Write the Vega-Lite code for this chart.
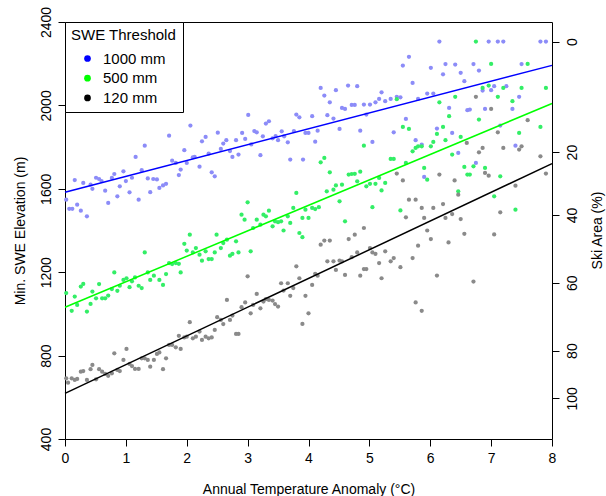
{
"$schema": "https://vega.github.io/schema/vega-lite/v6.json",
"width": 487, "height": 417,
"autosize": {"type": "none"},
"padding": {"left": 65, "top": 22, "right": 54, "bottom": 57},
"background": "white",
"config": {
  "font": "Liberation Sans",
  "view": {"stroke": "black", "strokeWidth": 1},
  "axis": {"grid": false, "domain": false, "tickColor": "black", "tickSize": 7, "labelColor": "black", "titleColor": "black", "labelFontSize": 14, "titleFontSize": 14, "titleFontWeight": "normal", "labelFont": "Liberation Sans", "titleFont": "Liberation Sans", "labelFlush": false, "labelOverlap": false}
},
"datasets": {
"fit": [
{"t":0,"elev":1583,"series":"1000 mm"},{"t":8,"elev":2192,"series":"1000 mm"},
{"t":0,"elev":1032,"series":"500 mm"},{"t":8,"elev":2009,"series":"500 mm"},
{"t":0,"elev":619,"series":"120 mm"},{"t":8,"elev":1721,"series":"120 mm"}
],
"pts": [
{"t":0.02,"elev":1548,"swe":"1000 mm"},{"t":0.07,"elev":1504,"swe":"1000 mm"},{"t":0.12,"elev":1504,"swe":"1000 mm"},{"t":0.20,"elev":1524,"swe":"1000 mm"},{"t":0.26,"elev":1495,"swe":"1000 mm"},{"t":0.36,"elev":1468,"swe":"1000 mm"},{"t":0.16,"elev":1642,"swe":"1000 mm"},{"t":0.30,"elev":1628,"swe":"1000 mm"},{"t":0.42,"elev":1620,"swe":"1000 mm"},{"t":0.45,"elev":1600,"swe":"1000 mm"},{"t":0.51,"elev":1653,"swe":"1000 mm"},{"t":0.56,"elev":1647,"swe":"1000 mm"},{"t":0.60,"elev":1637,"swe":"1000 mm"},{"t":0.66,"elev":1591,"swe":"1000 mm"},{"t":0.71,"elev":1532,"swe":"1000 mm"},{"t":0.77,"elev":1652,"swe":"1000 mm"},{"t":0.81,"elev":1671,"swe":"1000 mm"},{"t":0.86,"elev":1564,"swe":"1000 mm"},{"t":0.90,"elev":1612,"swe":"1000 mm"},{"t":0.96,"elev":1684,"swe":"1000 mm"},{"t":1.00,"elev":1637,"swe":"1000 mm"},{"t":1.06,"elev":1583,"swe":"1000 mm"},{"t":1.10,"elev":1653,"swe":"1000 mm"},{"t":1.16,"elev":1753,"swe":"1000 mm"},{"t":1.21,"elev":1548,"swe":"1000 mm"},{"t":1.26,"elev":1689,"swe":"1000 mm"},{"t":1.31,"elev":1807,"swe":"1000 mm"},{"t":1.36,"elev":1650,"swe":"1000 mm"},{"t":1.40,"elev":1584,"swe":"1000 mm"},{"t":1.45,"elev":1647,"swe":"1000 mm"},{"t":1.51,"elev":1645,"swe":"1000 mm"},{"t":1.55,"elev":1604,"swe":"1000 mm"},{"t":1.61,"elev":1616,"swe":"1000 mm"},{"t":1.66,"elev":1624,"swe":"1000 mm"},{"t":1.71,"elev":1855,"swe":"1000 mm"},{"t":1.76,"elev":1735,"swe":"1000 mm"},{"t":1.82,"elev":1724,"swe":"1000 mm"},{"t":1.87,"elev":1666,"swe":"1000 mm"},{"t":1.90,"elev":1692,"swe":"1000 mm"},{"t":1.96,"elev":1785,"swe":"1000 mm"},{"t":2.00,"elev":1724,"swe":"1000 mm"},{"t":2.06,"elev":1903,"swe":"1000 mm"},{"t":2.10,"elev":1751,"swe":"1000 mm"},{"t":2.13,"elev":1753,"swe":"1000 mm"},{"t":2.21,"elev":1706,"swe":"1000 mm"},{"t":2.25,"elev":1828,"swe":"1000 mm"},{"t":2.31,"elev":1849,"swe":"1000 mm"},{"t":2.36,"elev":1769,"swe":"1000 mm"},{"t":2.41,"elev":1679,"swe":"1000 mm"},{"t":2.46,"elev":1660,"swe":"1000 mm"},{"t":2.51,"elev":1869,"swe":"1000 mm"},{"t":2.56,"elev":1791,"swe":"1000 mm"},{"t":2.60,"elev":1817,"swe":"1000 mm"},{"t":2.65,"elev":1833,"swe":"1000 mm"},{"t":2.71,"elev":1781,"swe":"1000 mm"},{"t":2.75,"elev":1753,"swe":"1000 mm"},{"t":2.81,"elev":1833,"swe":"1000 mm"},{"t":2.85,"elev":1764,"swe":"1000 mm"},{"t":2.91,"elev":1868,"swe":"1000 mm"},{"t":2.96,"elev":1839,"swe":"1000 mm"},{"t":3.01,"elev":1954,"swe":"1000 mm"},{"t":3.06,"elev":1813,"swe":"1000 mm"},{"t":3.11,"elev":1877,"swe":"1000 mm"},{"t":3.15,"elev":1871,"swe":"1000 mm"},{"t":3.21,"elev":1761,"swe":"1000 mm"},{"t":3.25,"elev":1852,"swe":"1000 mm"},{"t":3.30,"elev":1913,"swe":"1000 mm"},{"t":3.35,"elev":1924,"swe":"1000 mm"},{"t":3.41,"elev":1842,"swe":"1000 mm"},{"t":3.46,"elev":1853,"swe":"1000 mm"},{"t":3.50,"elev":1833,"swe":"1000 mm"},{"t":3.56,"elev":1876,"swe":"1000 mm"},{"t":3.60,"elev":1852,"swe":"1000 mm"},{"t":3.66,"elev":1823,"swe":"1000 mm"},{"t":3.70,"elev":1740,"swe":"1000 mm"},{"t":3.76,"elev":1877,"swe":"1000 mm"},{"t":3.80,"elev":1956,"swe":"1000 mm"},{"t":3.85,"elev":1943,"swe":"1000 mm"},{"t":3.91,"elev":1740,"swe":"1000 mm"},{"t":3.95,"elev":1868,"swe":"1000 mm"},{"t":4.00,"elev":1868,"swe":"1000 mm"},
{"t":4.06,"elev":1948,"swe":"1000 mm"},{"t":4.11,"elev":1826,"swe":"1000 mm"},{"t":4.15,"elev":1879,"swe":"1000 mm"},{"t":4.20,"elev":2084,"swe":"1000 mm"},{"t":4.26,"elev":2047,"swe":"1000 mm"},{"t":4.31,"elev":1953,"swe":"1000 mm"},{"t":4.35,"elev":2015,"swe":"1000 mm"},{"t":4.41,"elev":1937,"swe":"1000 mm"},{"t":4.45,"elev":2073,"swe":"1000 mm"},{"t":4.51,"elev":1887,"swe":"1000 mm"},{"t":4.55,"elev":1988,"swe":"1000 mm"},{"t":4.60,"elev":1983,"swe":"1000 mm"},{"t":4.65,"elev":2095,"swe":"1000 mm"},{"t":4.71,"elev":2002,"swe":"1000 mm"},{"t":4.76,"elev":2002,"swe":"1000 mm"},{"t":4.80,"elev":2092,"swe":"1000 mm"},{"t":4.85,"elev":1879,"swe":"1000 mm"},{"t":4.91,"elev":2004,"swe":"1000 mm"},{"t":4.95,"elev":1956,"swe":"1000 mm"},{"t":5.01,"elev":2004,"swe":"1000 mm"},{"t":5.05,"elev":1825,"swe":"1000 mm"},{"t":5.10,"elev":2015,"swe":"1000 mm"},{"t":5.16,"elev":2031,"swe":"1000 mm"},{"t":5.20,"elev":2063,"swe":"1000 mm"},{"t":5.26,"elev":2020,"swe":"1000 mm"},{"t":5.35,"elev":2031,"swe":"1000 mm"},{"t":5.40,"elev":1871,"swe":"1000 mm"},{"t":5.45,"elev":2041,"swe":"1000 mm"},{"t":5.51,"elev":2039,"swe":"1000 mm"},{"t":5.55,"elev":2191,"swe":"1000 mm"},{"t":5.60,"elev":1935,"swe":"1000 mm"},{"t":5.65,"elev":2233,"swe":"1000 mm"},{"t":5.71,"elev":2108,"swe":"1000 mm"},{"t":5.76,"elev":1833,"swe":"1000 mm"},{"t":5.80,"elev":2031,"swe":"1000 mm"},{"t":5.86,"elev":1812,"swe":"1000 mm"},{"t":5.90,"elev":1657,"swe":"1000 mm"},{"t":5.95,"elev":2057,"swe":"1000 mm"},{"t":6.01,"elev":2180,"swe":"1000 mm"},{"t":6.05,"elev":2057,"swe":"1000 mm"},{"t":6.11,"elev":1889,"swe":"1000 mm"},{"t":6.15,"elev":2306,"swe":"1000 mm"},{"t":6.21,"elev":2149,"swe":"1000 mm"},{"t":6.25,"elev":2198,"swe":"1000 mm"},{"t":6.31,"elev":1988,"swe":"1000 mm"},{"t":6.36,"elev":1868,"swe":"1000 mm"},{"t":6.41,"elev":2196,"swe":"1000 mm"},{"t":6.46,"elev":1772,"swe":"1000 mm"},{"t":6.50,"elev":2156,"swe":"1000 mm"},{"t":6.56,"elev":2116,"swe":"1000 mm"},{"t":6.61,"elev":1977,"swe":"1000 mm"},{"t":6.65,"elev":1980,"swe":"1000 mm"},{"t":6.71,"elev":2198,"swe":"1000 mm"},{"t":6.75,"elev":1724,"swe":"1000 mm"},{"t":6.80,"elev":2167,"swe":"1000 mm"},{"t":6.86,"elev":2071,"swe":"1000 mm"},{"t":6.90,"elev":1983,"swe":"1000 mm"},{"t":6.96,"elev":2306,"swe":"1000 mm"},{"t":7.00,"elev":2073,"swe":"1000 mm"},{"t":7.05,"elev":2092,"swe":"1000 mm"},{"t":7.11,"elev":2306,"swe":"1000 mm"},{"t":7.15,"elev":1903,"swe":"1000 mm"},{"t":7.20,"elev":2306,"swe":"1000 mm"},{"t":7.25,"elev":2092,"swe":"1000 mm"},{"t":7.35,"elev":1983,"swe":"1000 mm"},{"t":7.40,"elev":1807,"swe":"1000 mm"},{"t":7.46,"elev":2041,"swe":"1000 mm"},{"t":7.50,"elev":2198,"swe":"1000 mm"},{"t":7.81,"elev":2306,"swe":"1000 mm"},{"t":7.90,"elev":2306,"swe":"1000 mm"},
{"t":0.02,"elev":1100,"swe":"500 mm"},{"t":0.11,"elev":1015,"swe":"500 mm"},{"t":0.16,"elev":1083,"swe":"500 mm"},{"t":0.20,"elev":1043,"swe":"500 mm"},{"t":0.26,"elev":1131,"swe":"500 mm"},{"t":0.30,"elev":1144,"swe":"500 mm"},{"t":0.36,"elev":1011,"swe":"500 mm"},{"t":0.42,"elev":1048,"swe":"500 mm"},{"t":0.45,"elev":1107,"swe":"500 mm"},{"t":0.51,"elev":1075,"swe":"500 mm"},{"t":0.56,"elev":1143,"swe":"500 mm"},{"t":0.61,"elev":1075,"swe":"500 mm"},{"t":0.66,"elev":1075,"swe":"500 mm"},{"t":0.71,"elev":1088,"swe":"500 mm"},{"t":0.77,"elev":1119,"swe":"500 mm"},{"t":0.81,"elev":1199,"swe":"500 mm"},{"t":0.86,"elev":1111,"swe":"500 mm"},{"t":0.90,"elev":1135,"swe":"500 mm"},{"t":0.96,"elev":1163,"swe":"500 mm"},{"t":1.01,"elev":1171,"swe":"500 mm"},{"t":1.06,"elev":1128,"swe":"500 mm"},{"t":1.10,"elev":1156,"swe":"500 mm"},{"t":1.15,"elev":1175,"swe":"500 mm"},{"t":1.21,"elev":1135,"swe":"500 mm"},{"t":1.26,"elev":1124,"swe":"500 mm"},{"t":1.31,"elev":1295,"swe":"500 mm"},{"t":1.36,"elev":1199,"swe":"500 mm"},{"t":1.40,"elev":1163,"swe":"500 mm"},{"t":1.46,"elev":1183,"swe":"500 mm"},{"t":1.55,"elev":1163,"swe":"500 mm"},{"t":1.61,"elev":1139,"swe":"500 mm"},{"t":1.66,"elev":1191,"swe":"500 mm"},{"t":1.71,"elev":1244,"swe":"500 mm"},{"t":1.76,"elev":1239,"swe":"500 mm"},{"t":1.82,"elev":1244,"swe":"500 mm"},{"t":1.87,"elev":1240,"swe":"500 mm"},{"t":1.90,"elev":1199,"swe":"500 mm"},{"t":1.96,"elev":1336,"swe":"500 mm"},{"t":2.00,"elev":1304,"swe":"500 mm"},{"t":2.05,"elev":1380,"swe":"500 mm"},{"t":2.10,"elev":1295,"swe":"500 mm"},{"t":2.15,"elev":1316,"swe":"500 mm"},{"t":2.21,"elev":1284,"swe":"500 mm"},{"t":2.25,"elev":1255,"swe":"500 mm"},{"t":2.31,"elev":1300,"swe":"500 mm"},{"t":2.36,"elev":1263,"swe":"500 mm"},{"t":2.41,"elev":1263,"swe":"500 mm"},{"t":2.46,"elev":1295,"swe":"500 mm"},{"t":2.49,"elev":1380,"swe":"500 mm"},{"t":2.56,"elev":1316,"swe":"500 mm"},{"t":2.60,"elev":1340,"swe":"500 mm"},{"t":2.66,"elev":1356,"swe":"500 mm"},{"t":2.71,"elev":1279,"swe":"500 mm"},{"t":2.75,"elev":1288,"swe":"500 mm"},{"t":2.81,"elev":1348,"swe":"500 mm"},{"t":2.85,"elev":1295,"swe":"500 mm"},{"t":3.05,"elev":1300,"swe":"500 mm"},
{"t":2.90,"elev":1476,"swe":"500 mm"},{"t":2.95,"elev":1452,"swe":"500 mm"},{"t":3.00,"elev":1535,"swe":"500 mm"},{"t":3.09,"elev":1412,"swe":"500 mm"},{"t":3.15,"elev":1452,"swe":"500 mm"},{"t":3.21,"elev":1428,"swe":"500 mm"},{"t":3.26,"elev":1476,"swe":"500 mm"},{"t":3.30,"elev":1468,"swe":"500 mm"},{"t":3.35,"elev":1495,"swe":"500 mm"},{"t":3.41,"elev":1420,"swe":"500 mm"},{"t":3.45,"elev":1444,"swe":"500 mm"},{"t":3.50,"elev":1440,"swe":"500 mm"},{"t":3.55,"elev":1444,"swe":"500 mm"},{"t":3.59,"elev":1400,"swe":"500 mm"},{"t":3.66,"elev":1468,"swe":"500 mm"},{"t":3.70,"elev":1436,"swe":"500 mm"},{"t":3.75,"elev":1508,"swe":"500 mm"},{"t":3.80,"elev":1580,"swe":"500 mm"},{"t":3.85,"elev":1388,"swe":"500 mm"},{"t":3.90,"elev":1460,"swe":"500 mm"},{"t":3.95,"elev":1500,"swe":"500 mm"},{"t":4.00,"elev":1460,"swe":"500 mm"},{"t":3.90,"elev":1368,"swe":"500 mm"},
{"t":4.06,"elev":1508,"swe":"500 mm"},{"t":4.11,"elev":1503,"swe":"500 mm"},{"t":4.17,"elev":1512,"swe":"500 mm"},{"t":4.20,"elev":1727,"swe":"500 mm"},{"t":4.26,"elev":1748,"swe":"500 mm"},{"t":4.30,"elev":1588,"swe":"500 mm"},{"t":4.35,"elev":1679,"swe":"500 mm"},{"t":4.41,"elev":1596,"swe":"500 mm"},{"t":4.45,"elev":1616,"swe":"500 mm"},{"t":4.51,"elev":1540,"swe":"500 mm"},{"t":4.55,"elev":1620,"swe":"500 mm"},{"t":4.60,"elev":1444,"swe":"500 mm"},{"t":4.66,"elev":1668,"swe":"500 mm"},{"t":4.71,"elev":1671,"swe":"500 mm"},{"t":4.76,"elev":1672,"swe":"500 mm"},{"t":4.80,"elev":1636,"swe":"500 mm"},{"t":4.85,"elev":1682,"swe":"500 mm"},{"t":4.91,"elev":1807,"swe":"500 mm"},{"t":4.95,"elev":1612,"swe":"500 mm"},{"t":5.01,"elev":1624,"swe":"500 mm"},{"t":5.05,"elev":1512,"swe":"500 mm"},{"t":5.10,"elev":1624,"swe":"500 mm"},{"t":5.16,"elev":1652,"swe":"500 mm"},{"t":5.20,"elev":1592,"swe":"500 mm"},{"t":5.26,"elev":1628,"swe":"500 mm"},{"t":5.35,"elev":1743,"swe":"500 mm"},{"t":5.40,"elev":1743,"swe":"500 mm"},{"t":5.45,"elev":2030,"swe":"500 mm"},{"t":5.51,"elev":1496,"swe":"500 mm"},{"t":5.55,"elev":1897,"swe":"500 mm"},{"t":5.60,"elev":1724,"swe":"500 mm"},{"t":5.65,"elev":1887,"swe":"500 mm"},{"t":5.71,"elev":1780,"swe":"500 mm"},{"t":5.76,"elev":1796,"swe":"500 mm"},{"t":5.80,"elev":1804,"swe":"500 mm"},{"t":5.86,"elev":1804,"swe":"500 mm"},{"t":5.90,"elev":1700,"swe":"500 mm"},{"t":5.95,"elev":1644,"swe":"500 mm"},{"t":6.01,"elev":1804,"swe":"500 mm"},{"t":6.05,"elev":1825,"swe":"500 mm"},{"t":6.11,"elev":1863,"swe":"500 mm"},{"t":6.15,"elev":2015,"swe":"500 mm"},{"t":6.21,"elev":1897,"swe":"500 mm"},{"t":6.25,"elev":1833,"swe":"500 mm"},{"t":6.31,"elev":1948,"swe":"500 mm"},{"t":6.36,"elev":1764,"swe":"500 mm"},{"t":6.41,"elev":2041,"swe":"500 mm"},{"t":6.46,"elev":1588,"swe":"500 mm"},{"t":6.50,"elev":1849,"swe":"500 mm"},{"t":6.56,"elev":1705,"swe":"500 mm"},{"t":6.61,"elev":1668,"swe":"500 mm"},{"t":6.65,"elev":1668,"swe":"500 mm"},{"t":6.71,"elev":1708,"swe":"500 mm"},{"t":6.75,"elev":2306,"swe":"500 mm"},{"t":6.80,"elev":1932,"swe":"500 mm"},{"t":6.86,"elev":2084,"swe":"500 mm"},{"t":6.90,"elev":1700,"swe":"500 mm"},{"t":6.96,"elev":2095,"swe":"500 mm"},{"t":7.00,"elev":2199,"swe":"500 mm"},{"t":7.05,"elev":1564,"swe":"500 mm"},{"t":7.11,"elev":2041,"swe":"500 mm"},{"t":7.15,"elev":1660,"swe":"500 mm"},{"t":7.20,"elev":2084,"swe":"500 mm"},{"t":7.35,"elev":2020,"swe":"500 mm"},{"t":7.40,"elev":1500,"swe":"500 mm"},{"t":7.46,"elev":1868,"swe":"500 mm"},{"t":7.50,"elev":2084,"swe":"500 mm"},{"t":7.60,"elev":2199,"swe":"500 mm"},{"t":7.81,"elev":1897,"swe":"500 mm"},{"t":7.90,"elev":2084,"swe":"500 mm"},
{"t":0.02,"elev":691,"swe":"120 mm"},{"t":0.05,"elev":670,"swe":"120 mm"},{"t":0.11,"elev":691,"swe":"120 mm"},{"t":0.16,"elev":683,"swe":"120 mm"},{"t":0.20,"elev":688,"swe":"120 mm"},{"t":0.26,"elev":723,"swe":"120 mm"},{"t":0.30,"elev":726,"swe":"120 mm"},{"t":0.36,"elev":683,"swe":"120 mm"},{"t":0.42,"elev":735,"swe":"120 mm"},{"t":0.45,"elev":755,"swe":"120 mm"},{"t":0.51,"elev":686,"swe":"120 mm"},{"t":0.56,"elev":735,"swe":"120 mm"},{"t":0.61,"elev":723,"swe":"120 mm"},{"t":0.66,"elev":712,"swe":"120 mm"},{"t":0.71,"elev":703,"swe":"120 mm"},{"t":0.77,"elev":715,"swe":"120 mm"},{"t":0.81,"elev":811,"swe":"120 mm"},{"t":0.86,"elev":731,"swe":"120 mm"},{"t":0.90,"elev":726,"swe":"120 mm"},{"t":0.96,"elev":779,"swe":"120 mm"},{"t":1.01,"elev":832,"swe":"120 mm"},{"t":1.06,"elev":760,"swe":"120 mm"},{"t":1.10,"elev":750,"swe":"120 mm"},{"t":1.15,"elev":736,"swe":"120 mm"},{"t":1.21,"elev":736,"swe":"120 mm"},{"t":1.26,"elev":787,"swe":"120 mm"},{"t":1.31,"elev":787,"swe":"120 mm"},{"t":1.36,"elev":779,"swe":"120 mm"},{"t":1.40,"elev":747,"swe":"120 mm"},{"t":1.46,"elev":779,"swe":"120 mm"},{"t":1.51,"elev":808,"swe":"120 mm"},{"t":1.55,"elev":815,"swe":"120 mm"},{"t":1.61,"elev":735,"swe":"120 mm"},{"t":1.66,"elev":787,"swe":"120 mm"},{"t":1.71,"elev":851,"swe":"120 mm"},{"t":1.76,"elev":851,"swe":"120 mm"},{"t":1.82,"elev":840,"swe":"120 mm"},{"t":1.87,"elev":895,"swe":"120 mm"},{"t":1.90,"elev":832,"swe":"120 mm"},{"t":1.96,"elev":887,"swe":"120 mm"},{"t":2.00,"elev":891,"swe":"120 mm"},{"t":2.05,"elev":960,"swe":"120 mm"},{"t":2.10,"elev":883,"swe":"120 mm"},{"t":2.15,"elev":891,"swe":"120 mm"},{"t":2.21,"elev":915,"swe":"120 mm"},{"t":2.25,"elev":875,"swe":"120 mm"},{"t":2.31,"elev":891,"swe":"120 mm"},{"t":2.36,"elev":883,"swe":"120 mm"},{"t":2.41,"elev":887,"swe":"120 mm"},{"t":2.46,"elev":923,"swe":"120 mm"},{"t":2.50,"elev":984,"swe":"120 mm"},{"t":2.56,"elev":971,"swe":"120 mm"},{"t":2.60,"elev":951,"swe":"120 mm"},{"t":2.66,"elev":1067,"swe":"120 mm"},{"t":2.71,"elev":971,"swe":"120 mm"},{"t":2.75,"elev":992,"swe":"120 mm"},{"t":2.81,"elev":904,"swe":"120 mm"},{"t":2.85,"elev":904,"swe":"120 mm"},{"t":2.90,"elev":1032,"swe":"120 mm"},{"t":2.96,"elev":1055,"swe":"120 mm"},{"t":3.00,"elev":1180,"swe":"120 mm"},{"t":3.05,"elev":1003,"swe":"120 mm"},{"t":3.09,"elev":1043,"swe":"120 mm"},{"t":3.15,"elev":1096,"swe":"120 mm"},{"t":3.21,"elev":1027,"swe":"120 mm"},{"t":3.26,"elev":1059,"swe":"120 mm"},{"t":3.30,"elev":1071,"swe":"120 mm"},{"t":3.35,"elev":1067,"swe":"120 mm"},{"t":3.41,"elev":1064,"swe":"120 mm"},{"t":3.45,"elev":1047,"swe":"120 mm"},{"t":3.50,"elev":1035,"swe":"120 mm"},{"t":3.55,"elev":1147,"swe":"120 mm"},{"t":3.59,"elev":1112,"swe":"120 mm"},{"t":3.66,"elev":1147,"swe":"120 mm"},{"t":3.70,"elev":1087,"swe":"120 mm"},{"t":3.75,"elev":1124,"swe":"120 mm"},{"t":3.80,"elev":1228,"swe":"120 mm"},{"t":3.85,"elev":1171,"swe":"120 mm"},{"t":3.90,"elev":952,"swe":"120 mm"},{"t":3.95,"elev":1087,"swe":"120 mm"},{"t":4.00,"elev":1003,"swe":"120 mm"},
{"t":4.06,"elev":1139,"swe":"120 mm"},{"t":4.11,"elev":1192,"swe":"120 mm"},{"t":4.15,"elev":1183,"swe":"120 mm"},{"t":4.20,"elev":1332,"swe":"120 mm"},{"t":4.26,"elev":1352,"swe":"120 mm"},{"t":4.31,"elev":1252,"swe":"120 mm"},{"t":4.35,"elev":1352,"swe":"120 mm"},{"t":4.41,"elev":1252,"swe":"120 mm"},{"t":4.45,"elev":1211,"swe":"120 mm"},{"t":4.51,"elev":1256,"swe":"120 mm"},{"t":4.55,"elev":1252,"swe":"120 mm"},{"t":4.60,"elev":1187,"swe":"120 mm"},{"t":4.66,"elev":1359,"swe":"120 mm"},{"t":4.71,"elev":1272,"swe":"120 mm"},{"t":4.76,"elev":1380,"swe":"120 mm"},{"t":4.80,"elev":1295,"swe":"120 mm"},{"t":4.85,"elev":1183,"swe":"120 mm"},{"t":4.91,"elev":1215,"swe":"120 mm"},{"t":4.95,"elev":1215,"swe":"120 mm"},{"t":5.01,"elev":1316,"swe":"120 mm"},{"t":5.05,"elev":1295,"swe":"120 mm"},{"t":5.10,"elev":1288,"swe":"120 mm"},{"t":5.16,"elev":1244,"swe":"120 mm"},{"t":5.20,"elev":1171,"swe":"120 mm"},{"t":5.26,"elev":1300,"swe":"120 mm"},{"t":5.35,"elev":1252,"swe":"120 mm"},{"t":5.40,"elev":1268,"swe":"120 mm"},{"t":5.51,"elev":1224,"swe":"120 mm"},{"t":5.71,"elev":1268,"swe":"120 mm"},{"t":5.76,"elev":1055,"swe":"120 mm"},{"t":5.80,"elev":1327,"swe":"120 mm"},{"t":5.86,"elev":1015,"swe":"120 mm"},{"t":5.95,"elev":1400,"swe":"120 mm"},{"t":6.01,"elev":1359,"swe":"120 mm"},{"t":6.11,"elev":1184,"swe":"120 mm"},{"t":6.30,"elev":1343,"swe":"120 mm"},{"t":6.56,"elev":1384,"swe":"120 mm"},{"t":6.71,"elev":1155,"swe":"120 mm"},{"t":7.05,"elev":1381,"swe":"120 mm"},
{"t":4.91,"elev":1412,"swe":"120 mm"},{"t":5.45,"elev":1673,"swe":"120 mm"},{"t":5.55,"elev":1640,"swe":"120 mm"},{"t":5.60,"elev":1463,"swe":"120 mm"},{"t":5.65,"elev":1548,"swe":"120 mm"},{"t":5.76,"elev":1548,"swe":"120 mm"},{"t":5.86,"elev":1508,"swe":"120 mm"},{"t":5.90,"elev":1460,"swe":"120 mm"},{"t":6.05,"elev":1508,"swe":"120 mm"},{"t":6.15,"elev":1668,"swe":"120 mm"},{"t":6.21,"elev":1527,"swe":"120 mm"},{"t":6.25,"elev":1460,"swe":"120 mm"},{"t":6.36,"elev":1479,"swe":"120 mm"},{"t":6.40,"elev":1640,"swe":"120 mm"},{"t":6.46,"elev":1572,"swe":"120 mm"},{"t":6.50,"elev":1455,"swe":"120 mm"},{"t":6.60,"elev":1820,"swe":"120 mm"},{"t":6.75,"elev":2041,"swe":"120 mm"},{"t":6.80,"elev":1775,"swe":"120 mm"},{"t":6.86,"elev":1796,"swe":"120 mm"},{"t":6.90,"elev":1676,"swe":"120 mm"},{"t":6.96,"elev":1663,"swe":"120 mm"},{"t":7.00,"elev":1983,"swe":"120 mm"},{"t":7.11,"elev":1871,"swe":"120 mm"},{"t":7.15,"elev":1487,"swe":"120 mm"},{"t":7.20,"elev":1796,"swe":"120 mm"},{"t":7.40,"elev":1615,"swe":"120 mm"},{"t":7.46,"elev":1788,"swe":"120 mm"},{"t":7.50,"elev":1804,"swe":"120 mm"},{"t":7.60,"elev":1929,"swe":"120 mm"},{"t":7.81,"elev":1756,"swe":"120 mm"},{"t":7.90,"elev":1673,"swe":"120 mm"}
]
},
"layer": [
 {
  "data": {"name": "pts"},
  "mark": {"type": "circle", "size": 18, "opacity": 1},
  "encoding": {
    "x": {"field": "t", "type": "quantitative", "scale": {"domain": [0, 8], "nice": false, "zero": false},
          "axis": {"values": [0,1,2,3,4,5,6,7,8], "format": "d", "title": "Annual Temperature Anomaly (°C)", "labelPadding": 5, "titlePadding": 17}},
    "y": {"field": "elev", "type": "quantitative", "scale": {"domain": [400, 2400], "nice": false, "zero": false},
          "axis": {"values": [400, 800, 1200, 1600, 2000, 2400], "format": "d", "title": "Min. SWE Elevation (m)", "labelAngle": -90, "labelAlign": "center", "labelBaseline": "bottom", "labelPadding": 5, "titlePadding": 12}},
    "fill": {"field": "swe", "type": "nominal", "sort": ["1000 mm", "500 mm", "120 mm"],
             "scale": {"range": ["#8c8cf8", "#33ee66", "#8a8a8a"]},
             "legend": null}
  }
 },
 {
  "data": {"name": "fit"},
  "mark": {"type": "line", "strokeWidth": 1.5},
  "encoding": {
    "x": {"field": "t", "type": "quantitative"},
    "y": {"field": "elev", "type": "quantitative", "scale": {"domain": [400, 2400], "nice": false, "zero": false},
          "axis": {"orient": "right", "values": [2306, 1776, 1474, 1149, 824, 595],
                   "labelExpr": "datum.value == 2306 ? '0' : datum.value == 1776 ? '20' : datum.value == 1474 ? '40' : datum.value == 1149 ? '60' : datum.value == 824 ? '80' : '100'",
                   "title": "Ski Area (%)", "labelAngle": -90, "labelAlign": "center", "labelBaseline": "top", "labelPadding": 6,
                   "titleAngle": -90, "titleX": 45, "titleY": 208, "titleAlign": "center", "titleBaseline": "middle"}},
    "color": {"field": "series", "type": "nominal",
              "scale": {"domain": ["1000 mm", "500 mm", "120 mm"], "range": ["#0000ff", "#00ff00", "#000000"]},
              "legend": {"orient": "none", "legendX": 0, "legendY": 0, "title": "SWE Threshold",
                        "titleFontSize": 15, "titleFontWeight": "normal", "titleColor": "black", "titleFont": "Liberation Sans",
                        "labelFontSize": 15, "labelColor": "black", "labelFont": "Liberation Sans",
                        "symbolType": "circle", "symbolSize": 45, "symbolStrokeWidth": 0, "symbolOpacity": 1,
                        "symbolOffset": 9, "labelOffset": 8,
                        "padding": 6, "rowPadding": 3.7, "titlePadding": 8,
                        "strokeColor": "black", "fillColor": "white",
                        "encode": {"symbols": {"update": {"fill": {"scale": "color", "field": "value"}, "strokeWidth": {"value": 0}, "opacity": {"value": 1}}}}}}
  }
 }
],
"resolve": {"scale": {"y": "independent"}}
}
